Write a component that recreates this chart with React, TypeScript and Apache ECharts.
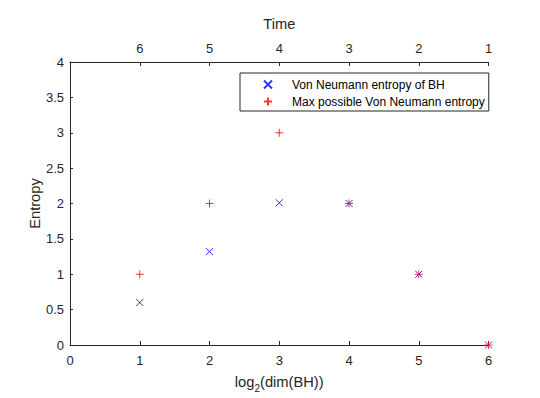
import React, { useEffect, useRef } from "react";
import * as echarts from "echarts";

const xValues = [1, 2, 3, 4, 5, 6];
const entropyBH = [0.6, 1.32, 2.01, 2.0, 1.0, 0];
const maxEntropy = [1, 2, 3, 2, 1, 0];
const timeLabels = ["6", "5", "4", "3", "2", "1"];
const seriesNames = ["Von Neumann entropy of BH", "Max possible Von Neumann entropy"];
const seriesColors = ["#0000ff", "#ff0000"];

const FONT = "'Liberation Sans', Arial, Helvetica, sans-serif";
const AX = "#262626";
const X_PATH = "path://M0,0L10,10M10,0L0,10";
const PLUS_PATH = "path://M5,0L5,10M0,5L10,5";

export default function App() {
  const ref = useRef<HTMLDivElement>(null);
  useEffect(() => {
    const chart = echarts.init(ref.current!, null, { renderer: "svg" });
    const axisCommon = {
      axisLine: { show: true, onZero: false, lineStyle: { color: AX, width: 1 } },
      axisTick: { show: true, inside: true, length: 4, lineStyle: { color: AX } },
      splitLine: { show: false },
    };
    chart.setOption({
      animation: false,
      backgroundColor: "#fff",
      textStyle: { fontFamily: FONT },
      grid: { left: 70, right: 51.5, top: 62, bottom: 52.5, containLabel: false },
      legend: {
        orient: "vertical",
        left: 240,
        top: 73,
        padding: [5, 4, 3, 23],
        itemWidth: 38,
        itemHeight: 8,
        itemGap: 4,
        borderColor: AX,
        borderWidth: 1,
        backgroundColor: "#fff",
        textStyle: { fontSize: 12, lineHeight: 13, color: "#000", fontFamily: FONT },
        data: seriesNames,
      },
      xAxis: [
        {
          type: "value",
          position: "bottom",
          min: 0,
          max: 6,
          interval: 1,
          ...axisCommon,
          axisLabel: { color: AX, fontSize: 13, margin: 8.5, fontFamily: FONT },
          name: "{a|log}{b|2}{a|(dim(BH))}",
          nameLocation: "middle",
          nameGap: 26,
          nameTextStyle: {
            color: AX,
            fontFamily: FONT,
            fontSize: 14.7,
            rich: {
              a: { fontSize: 14.7, color: AX, fontFamily: FONT },
              b: { fontSize: 10, color: AX, fontFamily: FONT, padding: [12, 0, 0, 0] },
            },
          },
        },
        {
          type: "value",
          position: "top",
          min: 0,
          max: 6,
          interval: 1,
          ...axisCommon,
          axisLabel: {
            color: AX,
            fontSize: 13,
            margin: 7,
            fontFamily: FONT,
            formatter: (v: number) => (v >= 1 ? timeLabels[Math.round(v) - 1] : ""),
          },
          name: "Time",
          nameLocation: "middle",
          nameGap: 31,
          nameTextStyle: { color: AX, fontSize: 14.7, fontFamily: FONT },
        },
      ],
      yAxis: {
        type: "value",
        min: 0,
        max: 4,
        interval: 0.5,
        ...axisCommon,
        axisTick: { show: true, inside: true, length: 3, lineStyle: { color: AX } },
        axisLabel: { color: AX, fontSize: 13, margin: 6, fontFamily: FONT },
        name: "Entropy",
        nameLocation: "middle",
        nameGap: 28,
        nameMoveOverlap: false,
        nameTextStyle: { color: AX, fontSize: 14.7, fontFamily: FONT },
      },
      series: [
        {
          name: seriesNames[0],
          type: "scatter",
          xAxisIndex: 0,
          clip: false,
          symbol: X_PATH,
          symbolSize: 7,
          itemStyle: { color: "transparent", borderColor: seriesColors[0], borderWidth: 1 },
          data: xValues.map((x, i) => [x, entropyBH[i]]),
        },
        {
          name: seriesNames[1],
          type: "scatter",
          xAxisIndex: 0,
          clip: false,
          symbol: PLUS_PATH,
          symbolSize: 8,
          itemStyle: { color: "transparent", borderColor: seriesColors[1], borderWidth: 1 },
          data: xValues.map((x, i) => [x, maxEntropy[i]]),
        },
      ],
    });
    return () => chart.dispose();
  }, []);
  return (
    <div
      ref={ref}
      style={{ position: "absolute", left: 0, top: 0, width: 540, height: 398, background: "#fff" }}
    />
  );
}
